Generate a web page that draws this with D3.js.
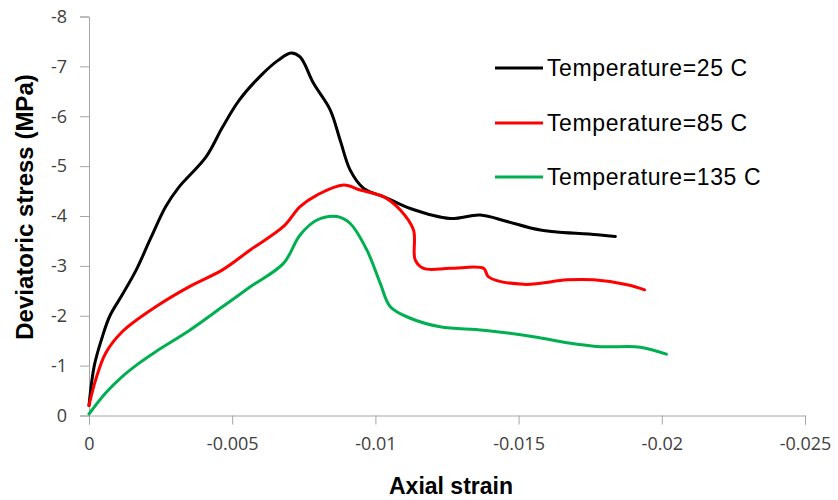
<!DOCTYPE html>
<html>
<head>
<meta charset="utf-8">
<script src="https://cdn.jsdelivr.net/npm/d3@7"></script>
<style>
  body { margin: 0; background: #fff; }
  svg { display: block; }
  .tick text { font-family: "Open Sans", sans-serif; font-size: 18px; fill: #404040; }
  .axis path, .axis line { stroke: #a6a6a6; stroke-width: 1px; }
</style>
</head>
<body>
<svg id="chart" width="838" height="500"></svg>
<script>
// strain values (negative, compression) and deviatoric stress in MPa
var strain25 = [0, -0.000185, -0.00045, -0.00073, -0.00116, -0.00165, -0.00215, -0.00268, -0.00314, -0.00408, -0.00466,
  -0.00524, -0.00606, -0.0066, -0.00705, -0.00737, -0.00784, -0.00842, -0.00877, -0.00912, -0.00958,
  -0.0104, -0.01122, -0.01261, -0.01366, -0.0146, -0.01576, -0.01785, -0.01838];
var stress25 = [-0.2, -1.0, -1.55, -2.0, -2.42, -2.92, -3.55, -4.19, -4.58, -5.18, -5.78,
  -6.32, -6.85, -7.12, -7.27, -7.19, -6.66, -6.13, -5.52, -4.92, -4.56,
  -4.36, -4.15, -3.95, -4.02, -3.89, -3.72, -3.62, -3.59];

var strain85 = [0, -0.00023, -0.00058, -0.00116, -0.00233, -0.00349, -0.00466, -0.00563, -0.00679, -0.00737,
  -0.00796, -0.00889, -0.00947, -0.01028, -0.01087, -0.01133, -0.01139, -0.01168, -0.01261, -0.01378,
  -0.01395, -0.01518, -0.01669, -0.01762, -0.01879, -0.0194];
var stress85 = [-0.2, -0.71, -1.25, -1.68, -2.18, -2.58, -2.92, -3.32, -3.79, -4.19,
  -4.42, -4.62, -4.52, -4.39, -4.12, -3.72, -3.12, -2.95, -2.95, -2.95,
  -2.78, -2.63, -2.72, -2.72, -2.62, -2.52];

var strain135 = [0, -0.00058, -0.00116, -0.00175, -0.00233, -0.00349, -0.00466, -0.00563, -0.00679, -0.00737,
  -0.00796, -0.00866, -0.00912, -0.0097, -0.01017, -0.01052, -0.01122, -0.01226, -0.01378, -0.01552,
  -0.01669, -0.01785, -0.01925, -0.02016];
var stress135 = [-0.03, -0.45, -0.78, -1.05, -1.28, -1.7, -2.18, -2.58, -3.05, -3.62,
  -3.92, -3.99, -3.85, -3.32, -2.65, -2.18, -1.95, -1.78, -1.71, -1.58,
  -1.46, -1.38, -1.37, -1.23];

var seriesNames = ["Temperature=25 C", "Temperature=85 C", "Temperature=135 C"];
var seriesColors = ["#000000", "#ff0000", "#00b050"];

var xTicks = [0, -0.005, -0.01, -0.015, -0.02, -0.025];
var xTickLabels = ["0", "-0.005", "-0.01", "-0.015", "-0.02", "-0.025"];
var yTicks = [0, -1, -2, -3, -4, -5, -6, -7, -8];
var yTickLabels = ["0", "-1", "-2", "-3", "-4", "-5", "-6", "-7", "-8"];

var svg = d3.select("#chart");

var x = d3.scaleLinear().domain([0, -0.025]).range([89, 805]);
var y = d3.scaleLinear().domain([0, -8]).range([415.5, 16.5]);

// axes
svg.append("g")
  .attr("class", "axis")
  .attr("transform", "translate(0," + y(0) + ")")
  .call(d3.axisBottom(x).tickValues(xTicks).tickSize(9).tickPadding(13)
    .tickFormat(function(d, i) { return xTickLabels[i]; }));

svg.append("g")
  .attr("class", "axis")
  .attr("transform", "translate(" + x(0) + ",0)")
  .call(d3.axisLeft(y).tickValues(yTicks).tickSize(9).tickPadding(13)
    .tickFormat(function(d, i) { return yTickLabels[i]; }));

// curves
var data = [
  d3.zip(strain25, stress25),
  d3.zip(strain85, stress85),
  d3.zip(strain135, stress135)
];

var line = d3.line()
  .x(function(d) { return x(d[0]); })
  .y(function(d) { return y(d[1]); })
  .curve(d3.curveCatmullRom.alpha(0.5));

svg.append("g")
  .selectAll("path")
  .data(data)
  .enter()
  .append("path")
  .attr("d", line)
  .attr("fill", "none")
  .attr("stroke", function(d, i) { return seriesColors[i]; })
  .attr("stroke-width", 3)
  .attr("stroke-linejoin", "round")
  .attr("stroke-linecap", "round");

// axis titles
svg.append("text")
  .attr("x", 451)
  .attr("y", 494)
  .attr("text-anchor", "middle")
  .style("font-family", "Liberation Sans, Arial, sans-serif")
  .style("font-weight", "bold")
  .style("font-size", "23px")
  .attr("fill", "#000")
  .text("Axial strain");

svg.append("text")
  .attr("transform", "translate(33,207) rotate(-90)")
  .attr("text-anchor", "middle")
  .style("font-family", "Liberation Sans, Arial, sans-serif")
  .style("font-weight", "bold")
  .style("font-size", "24px")
  .attr("fill", "#000")
  .text("Deviatoric stress (MPa)");

// legend
var legendY = [68, 123, 177];

var items = svg.append("g")
  .attr("class", "legend")
  .selectAll("g")
  .data(seriesNames)
  .enter()
  .append("g")
  .attr("transform", function(d, i) { return "translate(0," + legendY[i] + ")"; });

items.append("line")
  .attr("x1", 495).attr("x2", 543)
  .attr("y1", 0).attr("y2", 0)
  .attr("stroke", function(d, i) { return seriesColors[i]; })
  .attr("stroke-width", 3);

items.append("text")
  .attr("x", 547)
  .attr("y", 8)
  .style("font-family", "Liberation Sans, Arial, sans-serif")
  .style("font-size", "23px")
  .style("letter-spacing", "0.6px")
  .attr("fill", "#000")
  .text(function(d) { return d; });
</script>
</body>
</html>
